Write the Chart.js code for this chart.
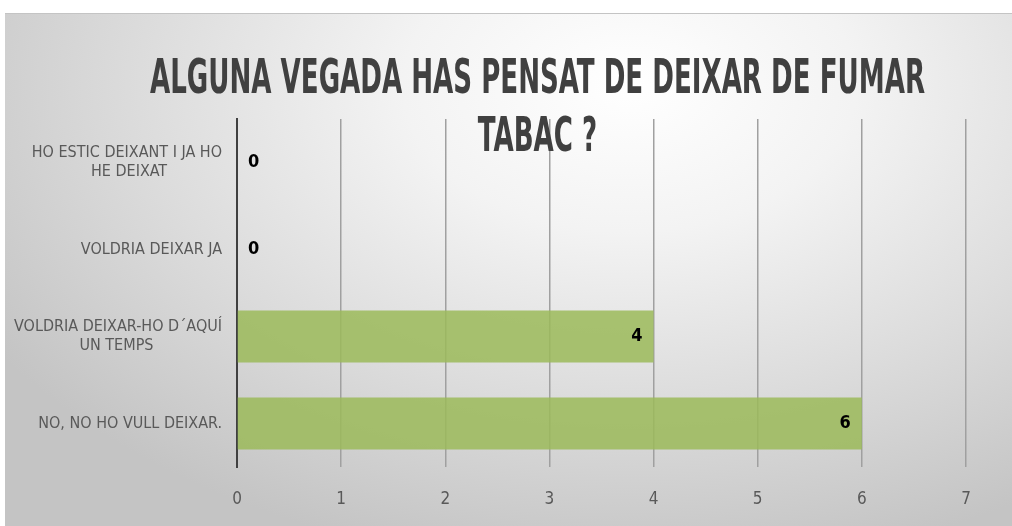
<!DOCTYPE html>
<html><head><meta charset="utf-8">
<script src="https://cdn.jsdelivr.net/npm/chart.js@4"></script>
<style>
html,body{margin:0;padding:0;background:#fff;}
#wrap{position:relative;width:1012px;height:526px;overflow:hidden;}
#bg{position:absolute;left:5px;top:13px;right:0;bottom:0;border-top:1px solid #c4c4c4;
background:radial-gradient(ellipse 75% 95% at 62% 14%, #ffffff 0%, #f3f3f3 30%, #dcdcdc 65%, #c4c4c4 100%);}
canvas{position:absolute;left:0;top:0;}
</style></head><body>
<div id="wrap"><div id="bg"></div><canvas id="c" width="1012" height="526"></canvas></div>
<script>
const categories = [["HO ESTIC DEIXANT I JA HO","HE DEIXAT"],"VOLDRIA DEIXAR JA",["VOLDRIA DEIXAR-HO D´AQUÍ","UN TEMPS"],"NO, NO HO VULL DEIXAR."];
const values = [0,0,4,6];
const xTicks = [0,1,2,3,4,5,6,7];
const titleLines = ["ALGUNA VEGADA HAS PENSAT DE DEIXAR DE FUMAR","TABAC ?"];

const FAMILY = "'Liberation Sans Narrow','DejaVu Sans Condensed','Roboto Condensed',sans-serif";
const LABEL_SIZE = 16;
const TITLE_SIZE = 48;

const mctx = document.createElement('canvas').getContext('2d');
mctx.font = LABEL_SIZE + 'px ' + FAMILY;
function centerLines(lbl){
  if(!Array.isArray(lbl)) return lbl;
  const widths = lbl.map(s => mctx.measureText(s).width);
  const maxW = Math.max(...widths);
  const sp = mctx.measureText(' ').width;
  return lbl.map((s,i) => s + ' '.repeat(Math.max(0, Math.round((maxW - widths[i]) / 2 / sp))));
}

const dataLabels = {
  id:'dataLabels',
  afterDatasetsDraw(chart){
    const ctx = chart.ctx;
    const meta = chart.getDatasetMeta(0);
    ctx.save();
    ctx.font = 'bold 18px ' + FAMILY;
    ctx.fillStyle = '#000';
    ctx.textBaseline = 'middle';
    meta.data.forEach((bar,i) => {
      const v = values[i];
      if(v === 0){ ctx.textAlign='left'; ctx.fillText(String(v), bar.x + 11, bar.y); }
      else { ctx.textAlign='right'; ctx.fillText(String(v), bar.x - 11, bar.y); }
    });
    ctx.restore();
  }
};

// condensed title: squeeze the title horizontally around its centre, like the original
const TITLE_CX = 537.5, TITLE_W = 775;
const titleBox = { id:'titleBox', afterLayout(chart){
  const t = chart.titleBlock; if(!t) return;
  const m = document.createElement('canvas').getContext('2d');
  m.font = 'bold ' + TITLE_SIZE + 'px ' + FAMILY;
  const sx = TITLE_W / m.measureText(titleLines[0]).width;
  t.left = TITLE_CX - 900; t.right = TITLE_CX + 900; t.width = 1800;
  if(!t._squeezed){
    const orig = t.draw;
    t.draw = function(area){
      const ctx = this.ctx;
      ctx.save();
      ctx.translate(TITLE_CX, 0); ctx.scale(sx, 1); ctx.translate(-TITLE_CX, 0);
      orig.call(this, area);
      ctx.restore();
    };
    t._squeezed = true;
  }
} };

new Chart(document.getElementById('c'), {
  type:'bar',
  data:{labels:categories, datasets:[{data:values, backgroundColor:'rgba(155,186,89,0.85)', borderWidth:0, barPercentage:0.6, categoryPercentage:1}]},
  options:{
    indexAxis:'y', responsive:false, animation:false,
    layout:{padding:{left:5,right:46,top:0,bottom:0}},
    plugins:{
      legend:{display:false}, tooltip:{enabled:false},
      title:{display:true, text:titleLines, color:'#404040',
        font:{family:FAMILY, size:TITLE_SIZE, weight:'bold', lineHeight:58/TITLE_SIZE},
        padding:{top:51.5,bottom:-48.5}}
    },
    scales:{
      x:{type:'linear', min:xTicks[0], max:xTicks[xTicks.length-1],
        ticks:{stepSize:1, color:'#595959', font:{family:FAMILY,size:17}, padding:22},
        grid:{color:c => c.index===0 ? 'rgba(0,0,0,0)' : '#a0a0a0', lineWidth:1.5, drawTicks:false},
        border:{display:false},
        afterFit(s){ s.height = 59; }
      },
      y:{grid:{display:false, drawTicks:false},
        border:{display:true, color:'#404040', width:2},
        ticks:{color:'#595959', font:{family:FAMILY,size:LABEL_SIZE}, padding:15,
          callback(v){ return centerLines(this.getLabelForValue(v)); }},
        afterFit(s){ s.width = 232; }
      }
    }
  },
  plugins:[dataLabels, titleBox]
});
</script>
</body></html>
